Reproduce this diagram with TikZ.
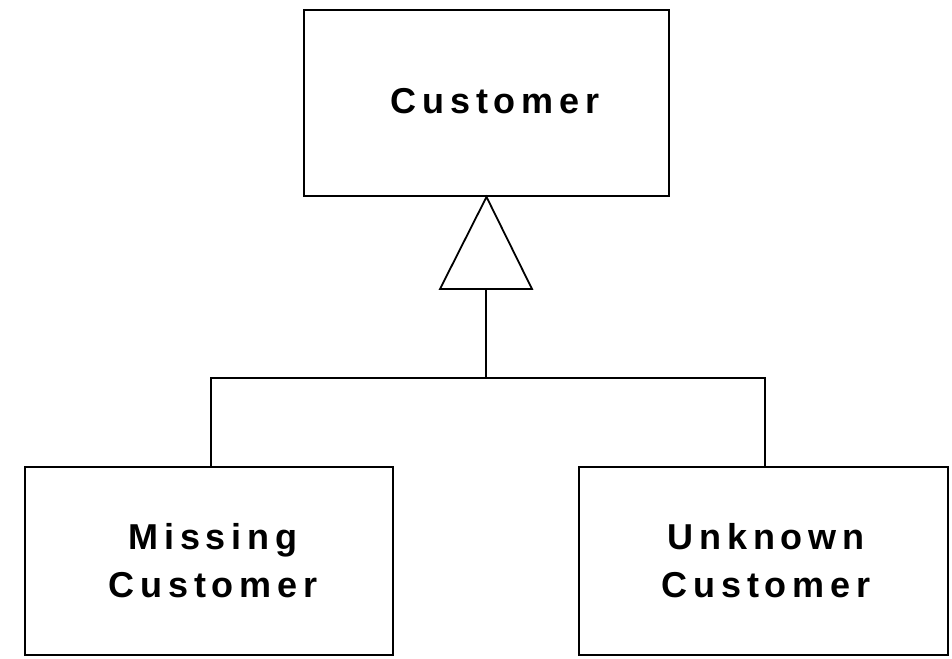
\documentclass[tikz,border=0pt]{standalone}
\usepackage{fontspec}
\setmainfont{Liberation Sans}[LetterSpace=16]
\begin{document}
\begin{tikzpicture}[x=1pt,y=-1pt,
  box/.style={draw=black,line width=1.8pt,minimum width=#1,inner sep=0pt},
  lbl/.style={font=\bfseries\fontsize{36}{48}\selectfont,align=center,inner sep=0pt},
  conn/.style={draw=black,line width=1.8pt}]
\useasboundingbox (0,0) rectangle (952,658);
\node[box=365pt,minimum height=186pt] (cust) at (486.5,103) {};
\node[box=368pt,minimum height=188pt] (miss) at (209,561) {};
\node[box=369pt,minimum height=188pt] (unk) at (763.5,561) {};
\node[lbl] (custt) at (495,101) {Customer};
\node[lbl] (misst) at (213,561) {Missing\\Customer};
\node[lbl] (unkt) at (766,561) {Unknown\\Customer};
\coordinate (tl) at (440,289);
\coordinate (tr) at (532,289);
\coordinate (tb) at (486,289);
\coordinate (j) at (486,378);
\coordinate (jl) at (211,378);
\coordinate (jr) at (765,378);
\draw[conn,line join=miter] (cust.south) -- (tl) -- (tr) -- cycle;
\draw[conn] (tb) -- (j);
\draw[conn] (miss.north -| jl) -- (jl) -- (jr) -- (unk.north -| jr);
\end{tikzpicture}
\end{document}
